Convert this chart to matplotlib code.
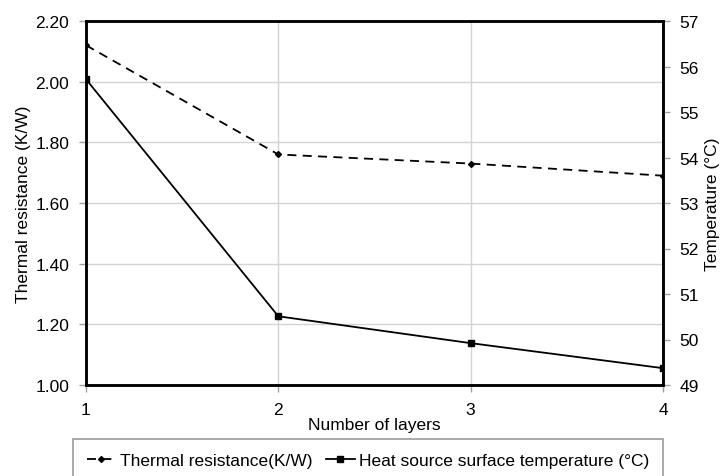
import matplotlib.pyplot as plt
from matplotlib.ticker import FormatStrFormatter

plt.rcParams['font.family'] = ['Liberation Sans', 'DejaVu Sans']
plt.rcParams['font.size'] = 12.5

layers = [1, 2, 3, 4]
resistance = [2.12, 1.76, 1.73, 1.69]
temperature = [55.72, 50.51, 49.92, 49.37]

fig = plt.figure(figsize=(7.2, 4.77), dpi=100)
ax = fig.add_axes([86 / 720, 1 - 386 / 477, 577 / 720, 364 / 477])
ax2 = ax.twinx()

# left axis: thermal resistance, dashed with small diamonds
l1, = ax.plot(layers, resistance, color='black', lw=1.3, ls=(0, (5, 3.5)),
              marker='D', ms=3, label='Thermal resistance(K/W)')
# right axis: temperature, solid with squares
l2, = ax2.plot(layers, temperature, color='black', lw=1.3,
               marker='s', ms=5, label='Heat source surface temperature (°C)')

ax.set_xlim(1, 4)
ax.set_ylim(1.0, 2.2)
ax.set_yticks([1.0, 1.2, 1.4, 1.6, 1.8, 2.0, 2.2])
ax.yaxis.set_major_formatter(FormatStrFormatter('%.2f'))
ax.set_xticks(layers)
ax2.set_ylim(49, 57)
ax2.set_yticks(range(49, 58))

ax.grid(True, color='#d4d4d4', lw=1)
ax.set_axisbelow(True)

for a in (ax, ax2):
    for s in a.spines.values():
        s.set_linewidth(1.8)
        s.set_color('black')
    a.tick_params(direction='out', length=5, width=1, color='#a0a0a0',
                  labelsize=12.5, pad=7)

ax.set_xlabel('Number of layers', labelpad=0)
ax.set_ylabel('Thermal resistance (K/W)', labelpad=3)
ax2.set_ylabel('Temperature (°C)', labelpad=4)

leg_top = 1 - 440 / 477
leg = fig.legend(handles=[l1, l2], loc='upper center',
                 bbox_to_anchor=(368 / 720, leg_top),
                 ncol=2, frameon=True, fancybox=False,
                 handlelength=1.65, handletextpad=0.25, columnspacing=0.8,
                 borderaxespad=0, borderpad=0.8, fontsize=12.5)
leg.get_frame().set_edgecolor('#808080')
leg.get_frame().set_linewidth(1.2)

fig.savefig('out.png', dpi=100)
